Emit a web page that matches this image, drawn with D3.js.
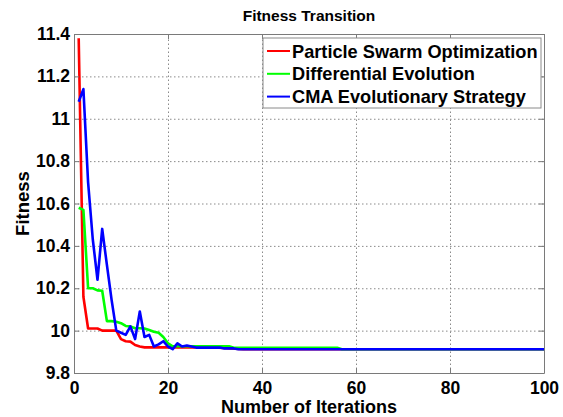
<!DOCTYPE html>
<html>
<head>
<meta charset="utf-8">
<script src="https://cdn.jsdelivr.net/npm/d3@7"></script>
<style>
  body { margin: 0; background: #fff; }
  svg text { font-family: "Liberation Sans", Arial, sans-serif; font-weight: bold; fill: #000; }
</style>
</head>
<body>
<script>
// the tail of each run is flat so only its ends are kept
var psoIters = [1, 2, 3, 4, 5, 6, 7, 8, 9, 10, 11, 12, 13, 14, 15, 30, 36, 100];
var psoFitness = [11.38, 10.16, 10.01, 10.01, 10.01, 10.00, 10.00, 10.00, 10.00, 9.96, 9.95, 9.948, 9.932, 9.925, 9.921, 9.921, 9.912, 9.912];

var deIters = [1, 2, 3, 4, 5, 6, 7, 8, 9, 10, 11, 12, 13, 14, 15, 16, 17, 18, 19, 20, 21, 33, 34, 56, 57, 100];
var deFitness = [10.58, 10.57, 10.20, 10.20, 10.19, 10.188, 10.045, 10.045, 10.042, 10.035, 10.022, 10.02, 10.011, 10.011, 10.01, 10.003, 9.995, 9.99, 9.97, 9.94, 9.926, 9.926, 9.919, 9.919, 9.912, 9.912];

var cmaIters = [1, 2, 3, 4, 5, 6, 7, 8, 9, 10, 11, 12, 13, 14, 15, 16, 17, 18, 19, 20, 21, 22, 23, 24, 25, 26, 31, 32, 34, 35, 100];
var cmaFitness = [11.08, 11.14, 10.70, 10.43, 10.24, 10.48, 10.31, 10.145, 10.00, 9.99, 9.98, 10.02, 9.96, 10.09, 9.97, 9.98, 9.925, 9.935, 9.95, 9.925, 9.913, 9.94, 9.925, 9.93, 9.925, 9.92, 9.92, 9.916, 9.916, 9.912, 9.912];

var seriesNames = ["Particle Swarm Optimization", "Differential Evolution", "CMA Evolutionary Strategy"];
var seriesColors = ["#ff0000", "#00ff00", "#0000ff"];
var xTicks = [0, 20, 40, 60, 80, 100];
var yTicks = [9.8, 10, 10.2, 10.4, 10.6, 10.8, 11, 11.2, 11.4];

var W = 563, H = 417;
var plotLeft = 74, plotRight = 544, plotTop = 34, plotBottom = 373;

var svg = d3.select("body").append("svg")
    .attr("width", W)
    .attr("height", H);

var x = d3.scaleLinear().domain([0, 100]).range([plotLeft, plotRight]);
var y = d3.scaleLinear().domain([9.8, 11.4]).range([plotBottom, plotTop]);

// dotted grid
svg.append("g")
    .attr("transform", "translate(0," + plotBottom + ")")
    .call(d3.axisBottom(x).tickValues(xTicks.slice(1, -1)).tickSize(-(plotBottom - plotTop)).tickFormat(""))
    .call(function(g) { g.select(".domain").remove(); })
    .selectAll("line")
    .attr("stroke", "#8a8a8a")
    .attr("stroke-dasharray", "1.5,2.5");

svg.append("g")
    .attr("transform", "translate(" + plotLeft + ",0)")
    .call(d3.axisLeft(y).tickValues(yTicks.slice(1, -1)).tickSize(-(plotRight - plotLeft)).tickFormat(""))
    .call(function(g) { g.select(".domain").remove(); })
    .selectAll("line")
    .attr("stroke", "#8a8a8a")
    .attr("stroke-dasharray", "1.5,2.5");

// the runs
var line = d3.line()
    .x(function(d) { return x(d[0]); })
    .y(function(d) { return y(d[1]); });

var runs = [
    d3.zip(psoIters, psoFitness),
    d3.zip(deIters, deFitness),
    d3.zip(cmaIters, cmaFitness)
];

svg.selectAll(".run")
    .data(runs)
    .enter()
    .append("path")
    .attr("class", "run")
    .attr("d", line)
    .attr("fill", "none")
    .attr("stroke-width", 2.6)
    .attr("stroke-linejoin", "round")
    .attr("stroke", function(d, i) { return seriesColors[i]; });

// axes box with inward ticks
var axisColor = "#7a7a7a";
var styleAxis = function(g) {
    g.select(".domain").attr("stroke", axisColor);
    g.selectAll(".tick line").attr("stroke", axisColor);
};

svg.append("g")
    .attr("transform", "translate(0," + plotBottom + ")")
    .call(d3.axisBottom(x).tickValues(xTicks).tickSizeInner(-5).tickSizeOuter(0).tickPadding(5))
    .call(styleAxis)
    .selectAll("text")
    .style("font-size", "17.5px")
    .attr("dy", "0.9em");

svg.append("g")
    .attr("transform", "translate(0," + plotTop + ")")
    .call(d3.axisTop(x).tickValues(xTicks).tickSizeInner(-5).tickSizeOuter(0).tickFormat(""))
    .call(styleAxis);

svg.append("g")
    .attr("transform", "translate(" + plotLeft + ",0)")
    .call(d3.axisLeft(y).tickValues(yTicks).tickSizeInner(-5).tickSizeOuter(0).tickPadding(4)
        .tickFormat(function(d) { return d3.format("")(+d.toFixed(1)); }))
    .call(styleAxis)
    .selectAll("text")
    .style("font-size", "17.5px");

svg.append("g")
    .attr("transform", "translate(" + plotRight + ",0)")
    .call(d3.axisRight(y).tickValues(yTicks).tickSizeInner(-5).tickSizeOuter(0).tickFormat(""))
    .call(styleAxis);

svg.selectAll(".tick text").attr("fill", "#000");

// titles
svg.append("text")
    .attr("x", (plotLeft + plotRight) / 2)
    .attr("y", 21)
    .attr("text-anchor", "middle")
    .style("font-size", "15.5px")
    .text("Fitness Transition");

svg.append("text")
    .attr("x", (plotLeft + plotRight) / 2)
    .attr("y", 413)
    .attr("text-anchor", "middle")
    .style("font-size", "18px")
    .text("Number of Iterations");

svg.append("text")
    .attr("transform", "translate(29," + (plotTop + plotBottom) / 2 + ") rotate(-90)")
    .attr("text-anchor", "middle")
    .style("font-size", "18.5px")
    .text("Fitness");

// legend
var legend = svg.append("g");
legend.append("rect")
    .attr("x", 263)
    .attr("y", 38)
    .attr("width", 278)
    .attr("height", 70)
    .attr("fill", "#fff")
    .attr("stroke", "#8a8a8a");

var entry = legend.selectAll(".entry")
    .data(seriesNames)
    .enter()
    .append("g")
    .attr("transform", function(d, i) { return "translate(0," + (51 + i * 22.8) + ")"; });

entry.append("line")
    .attr("x1", 267)
    .attr("x2", 290)
    .attr("stroke-width", 2)
    .attr("stroke", function(d, i) { return seriesColors[i]; });

entry.append("text")
    .attr("x", 292)
    .attr("dy", "0.36em")
    .style("font-size", "18.2px")
    .text(function(d) { return d; });
</script>
</body>
</html>
